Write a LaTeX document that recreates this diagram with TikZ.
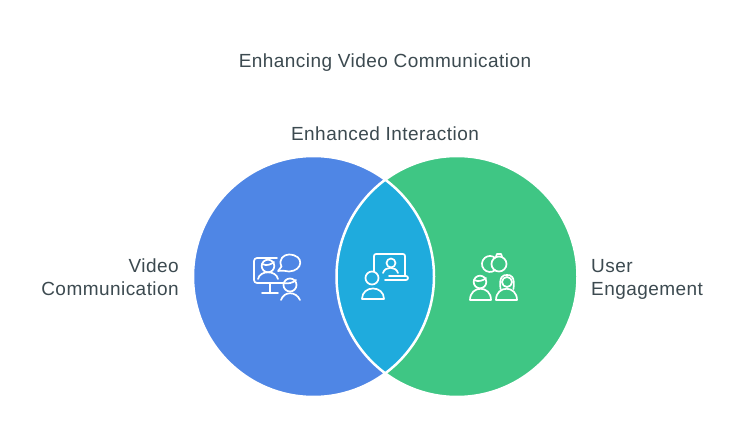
\documentclass[tikz,border=0pt]{standalone}
\usepackage{fontspec}
\setmainfont[LetterSpace=2.4]{Liberation Sans}
\definecolor{bluec}{HTML}{4F86E5}
\definecolor{greenc}{HTML}{3FC684}
\definecolor{tealc}{HTML}{1FABDD}
\definecolor{textc}{HTML}{3C4A50}
\tikzset{
  lab/.style={text=textc,font=\fontsize{19}{23}\selectfont,inner sep=0pt},
  ico/.style={draw=white,line width=1.7pt,line cap=round,line join=round},
  disc/.style={draw=white,line width=2.5pt}
}
\begin{document}
\begin{tikzpicture}[x=1pt,y=-1pt]
\useasboundingbox[fill=white] (0,0) rectangle (734,446);
\fill[bluec] (313.5,276.5) circle[radius=120.5];
\fill[greenc] (457,276.5) circle[radius=120.5];
\begin{scope}
  \clip (313.5,276.5) circle[radius=120.5];
  \fill[tealc] (457,276.5) circle[radius=120.5];
\end{scope}
\draw[disc] (313.5,276.5) circle[radius=120.5];
\draw[disc] (457,276.5) circle[radius=120.5];
\node[lab] (title) at (385,62.5) {Enhancing Video Communication};
\node[lab] (inter) at (385,134) {Enhanced Interaction};
\node[lab,align=right,anchor=east] (video) at (179,277.5) {Video\\Communication};
\node[lab,align=left,anchor=west] (user) at (591,279) {User\\Engagement};
% video icon
\draw[ico,rounded corners=3pt] (277,258) -- (254,258) -- (254,283) -- (283,283);
\draw[ico] (270,283) -- (270,293) (262,293) -- (278,293);
\draw[ico] (268,266) circle[radius=6.3];
\draw[ico] (262,264) .. controls (267,266) and (270,265) .. (274,262);
\draw[ico] (258,279) .. controls (260,270) and (276,270) .. (278,279);
\draw[ico] (278,271) -- (281.5,266.5) .. controls (278,259) and (284,254.5) .. (289,254.5) .. controls (305,255) and (303,271) .. (289,271.5) .. controls (286,271.5) and (284,270) .. (278,271) -- cycle;
\draw[ico] (290,285) circle[radius=6.5];
\draw[ico] (284,283) .. controls (288,284) and (293,283) .. (296,280);
\draw[ico] (281,300) .. controls (284,291) and (296,291) .. (300,300);
% laptop icon
\draw[ico,rounded corners=2pt] (374,271) -- (374,254) -- (405,254) -- (405,275);
\draw[ico,rounded corners=2pt] (389,276) -- (408,276) -- (408,280) -- (385,280);
\draw[ico] (391,263) circle[radius=4.5];
\draw[ico] (383,273) .. controls (385,266) and (396,266) .. (398,273);
\draw[ico] (372,278) circle[radius=6.5];
\draw[ico] (362,299) .. controls (362,285) and (384,285) .. (384,299) -- cycle;
% engagement icon
\draw[ico] (495.1,270.1) arc[start angle=50,end angle=310,radius=8];
\draw[ico] (499,264) circle[radius=7.5];
\draw[ico] (496,256.5) -- (497,254) -- (501,254) -- (502,256.5);
\draw[ico] (480,282) circle[radius=6.3];
\draw[ico] (474,280) .. controls (478,282) and (483,281) .. (486,278);
\draw[ico] (470,300) .. controls (470,285) and (491,285) .. (491,300) -- cycle;
\draw[ico] (507,282) circle[radius=5];
\draw[ico] (500.5,289) .. controls (499,276) and (503,275) .. (507,275) .. controls (511,275) and (515,276) .. (513.5,289);
\draw[ico] (496,300) .. controls (496,285) and (517,285) .. (517,300) -- cycle;
\end{tikzpicture}
\end{document}
